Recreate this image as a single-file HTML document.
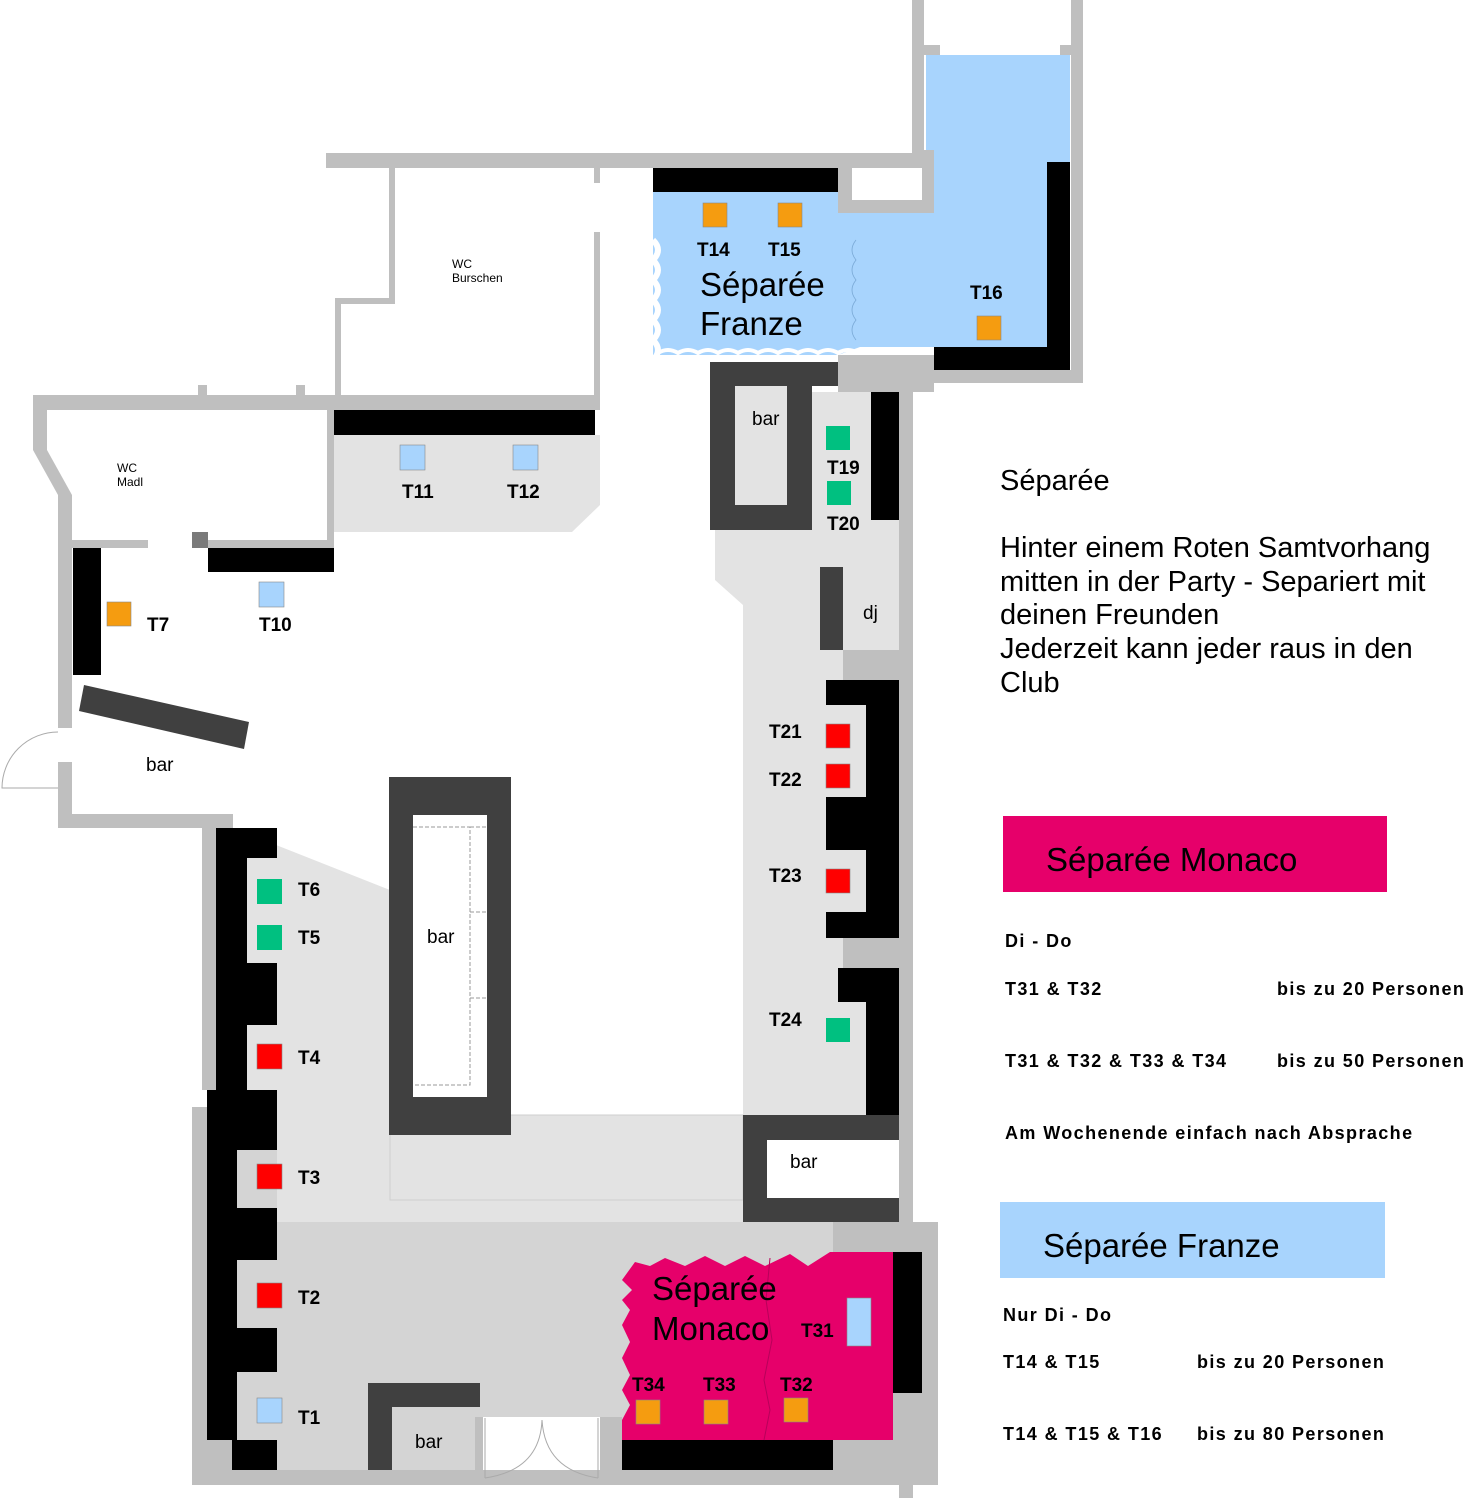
<!DOCTYPE html>
<html><head><meta charset="utf-8"><style>
html,body{margin:0;padding:0;background:#fff;}
svg{display:block;}
text{font-family:"Liberation Sans",Arial,sans-serif;}
.b{font-weight:bold;font-size:19px;}
.s{font-size:12px;}
.n{font-size:19px;}
.l{font-weight:bold;font-size:18px;letter-spacing:1.4px;}
</style></head><body>
<svg width="1484" height="1500" viewBox="0 0 1484 1500" xmlns="http://www.w3.org/2000/svg">
<!-- floor fills -->
<polygon points="715,392 899,392 899,1115 743,1115 743,605 715,580" fill="#e3e3e3"/>
<polygon points="334,435 600,435 600,505 572,532 334,532" fill="#e3e3e3"/>
<polygon points="233,828 390,890 390,1222 247,1222 247,828" fill="#e3e3e3"/>
<rect x="277" y="1115" width="466" height="107" fill="#e3e3e3"/>
<rect x="390" y="1115" width="353" height="85" fill="#e3e3e3" stroke="#cfcfcf" stroke-width="1"/>
<rect x="277" y="1222" width="556" height="248" fill="#d4d4d4"/>
<rect x="237" y="1150" width="40" height="320" fill="#d4d4d4"/>
<rect x="392" y="1407" width="83" height="63" fill="#d4d4d4"/>
<!-- blue area -->
<polygon points="653,168 838,168 838,213 934,213 934,153 926,153 926,55 1070,55 1070,355 934,355 934,347 860,347 838,355 653,355" fill="#a8d4fd"/>
<path d="M653,240 q10,10 0,20 q10,10 0,20 q10,10 0,20 q10,10 0,20 q10,10 0,20 q10,10 0,20" fill="none" stroke="#fff" stroke-width="6"/>
<path d="M856,240 q-8,10 0,20 q-8,10 0,20 q-8,10 0,20 q-8,10 0,20 q-8,10 0,20" fill="none" stroke="#7aa9d6" stroke-width="0.8"/>
<path d="M658,353 q10,-6 20,0 q10,-6 20,0 q10,-6 20,0 q10,-6 20,0 q10,-6 20,0 q10,-6 20,0 q10,-6 20,0 q10,-6 20,0 q10,-6 20,0 q10,-6 20,0" fill="none" stroke="#fff" stroke-width="4"/>
<!-- walls gray -->
<g fill="#bfbfbf">
<rect x="326" y="153" width="586" height="15"/>
<rect x="912" y="0" width="12" height="168"/>
<rect x="1071" y="0" width="12" height="383"/>
<rect x="924" y="45" width="16" height="10"/>
<rect x="1060" y="45" width="11" height="10"/>
<rect x="838" y="153" width="14" height="60"/>
<rect x="838" y="200" width="96" height="13"/>
<rect x="922" y="150" width="12" height="63"/>
<rect x="934" y="370" width="149" height="13"/>
<rect x="838" y="355" width="96" height="37"/>
<rect x="899" y="383" width="14" height="839"/>
<rect x="389" y="168" width="6" height="132"/>
<rect x="337" y="298" width="58" height="6"/>
<rect x="335" y="298" width="6" height="97"/>
<rect x="594" y="232" width="6" height="163"/>
<rect x="594" y="168" width="6" height="15"/>
<rect x="33" y="395" width="567" height="15"/>
<rect x="198" y="385" width="9" height="10"/>
<rect x="296" y="385" width="9" height="10"/>
<rect x="327" y="410" width="7" height="138"/>
<rect x="72" y="540" width="76" height="8"/>
<rect x="205" y="540" width="129" height="8"/>
<rect x="33" y="395" width="14" height="55"/>
<polygon points="33,450 47,450 72,495 58,495"/>
<rect x="58" y="495" width="14" height="233"/>
<rect x="58" y="762" width="14" height="66"/>
<rect x="58" y="814" width="175" height="14"/>
<rect x="202" y="828" width="14" height="262"/>
<rect x="192" y="1107" width="15" height="378"/>
<rect x="192" y="1470" width="418" height="15"/>
<rect x="610" y="1470" width="326" height="15"/>
<rect x="600" y="1417" width="10" height="53"/>
<rect x="610" y="1417" width="12" height="53"/>
<rect x="475" y="1417" width="8" height="53"/>
<rect x="833" y="1222" width="105" height="30"/>
<rect x="922" y="1222" width="16" height="263"/>
<rect x="833" y="1393" width="89" height="77"/>
<rect x="202" y="1440" width="30" height="30"/>
<rect x="899" y="1470" width="14" height="28"/>
<rect x="843" y="650" width="56" height="30"/>
<rect x="843" y="938" width="56" height="30"/>
</g>
<rect x="852" y="168" width="70" height="32" fill="#fff"/>
<rect x="192" y="532" width="16" height="16" fill="#7a7a7a"/>
<!-- door area -->
<rect x="483" y="1417" width="117" height="53" fill="#fff"/>
<path d="M485,1478 V1418 M598,1478 V1418 M485,1478 Q540,1470 542,1420 M598,1478 Q545,1470 542,1420" fill="none" stroke="#aaa" stroke-width="1"/>
<path d="M58,732 A56,56 0 0 0 2,788 L58,788" fill="none" stroke="#aaa" stroke-width="1"/>
<!-- black -->
<g fill="#000">
<rect x="653" y="168" width="185" height="24"/>
<rect x="1047" y="162" width="23" height="208"/>
<rect x="934" y="347" width="136" height="23"/>
<rect x="334" y="410" width="261" height="25"/>
<rect x="208" y="548" width="126" height="24"/>
<rect x="73" y="548" width="28" height="127"/>
<rect x="871" y="392" width="28" height="128"/>
<rect x="866" y="680" width="33" height="258"/>
<rect x="826" y="680" width="40" height="25"/>
<rect x="826" y="797" width="40" height="53"/>
<rect x="826" y="912" width="40" height="26"/>
<rect x="838" y="968" width="28" height="34"/>
<rect x="866" y="968" width="33" height="147"/>
<rect x="216" y="828" width="31" height="262"/>
<rect x="216" y="828" width="61" height="30"/>
<rect x="216" y="963" width="61" height="62"/>
<rect x="207" y="1090" width="30" height="350"/>
<rect x="207" y="1090" width="70" height="60"/>
<rect x="207" y="1208" width="70" height="52"/>
<rect x="207" y="1328" width="70" height="44"/>
<rect x="232" y="1440" width="45" height="30"/>
<rect x="893" y="1252" width="29" height="141"/>
<rect x="622" y="1440" width="211" height="30"/>
</g>
<!-- dark gray bars -->
<g fill="#404040">
<polygon points="84,685 249,722 244,749 79,711"/>
<rect x="389" y="777" width="122" height="358"/>
<rect x="710" y="362" width="128" height="24"/>
<rect x="710" y="362" width="102" height="168"/>
<rect x="820" y="567" width="23" height="83"/>
<rect x="743" y="1115" width="156" height="107"/>
<rect x="368" y="1383" width="24" height="87"/>
<rect x="368" y="1383" width="112" height="24"/>
</g>
<rect x="413" y="815" width="74" height="282" fill="#fff"/>
<path d="M413,827 H470 V1085 H413 M470,827 H487 M470,912 H487 M470,998 H487" fill="none" stroke="#999" stroke-width="1" stroke-dasharray="4,2"/>
<rect x="735" y="386" width="52" height="119" fill="#e3e3e3"/>
<rect x="767" y="1140" width="132" height="58" fill="#fff"/>
<!-- monaco -->
<polygon points="635,1262 650,1266 665,1258 685,1266 705,1256 725,1266 745,1256 765,1266 790,1254 808,1266 830,1252 893,1252 893,1440 622,1440 622,1420 630,1405 622,1390 630,1375 622,1358 630,1342 622,1325 630,1310 622,1300 632,1290 622,1280" fill="#e6006a"/>
<path d="M770,1258 L766,1300 772,1340 764,1380 770,1410 764,1440" fill="none" stroke="#b8005a" stroke-width="1"/>
<!-- tables -->
<g stroke="#888" stroke-width="0.6">
<rect x="703" y="203" width="24" height="24" fill="#f59c10"/>
<rect x="778" y="203" width="24" height="24" fill="#f59c10"/>
<rect x="977" y="316" width="24" height="24" fill="#f59c10"/>
<rect x="107" y="602" width="24" height="24" fill="#f59c10"/>
<rect x="636" y="1400" width="24" height="24" fill="#f59c10"/>
<rect x="704" y="1400" width="24" height="24" fill="#f59c10"/>
<rect x="784" y="1398" width="24" height="24" fill="#f59c10"/>
<rect x="400" y="445" width="25" height="25" fill="#a8d4fd"/>
<rect x="513" y="445" width="25" height="25" fill="#a8d4fd"/>
<rect x="259" y="582" width="25" height="25" fill="#a8d4fd"/>
<rect x="257" y="1398" width="25" height="25" fill="#a8d4fd"/>
<rect x="847" y="1298" width="24" height="48" fill="#a8d4fd"/>
<rect x="826" y="426" width="24" height="24" fill="#00c080" stroke="none"/>
<rect x="827" y="481" width="24" height="24" fill="#00c080" stroke="none"/>
<rect x="826" y="1018" width="24" height="24" fill="#00c080" stroke="none"/>
<rect x="257" y="879" width="25" height="25" fill="#00c080" stroke="none"/>
<rect x="257" y="925" width="25" height="25" fill="#00c080" stroke="none"/>
<rect x="826" y="724" width="24" height="24" fill="#ff0000"/>
<rect x="826" y="764" width="24" height="24" fill="#ff0000"/>
<rect x="826" y="869" width="24" height="24" fill="#ff0000"/>
<rect x="257" y="1044" width="25" height="25" fill="#ff0000"/>
<rect x="257" y="1164" width="25" height="25" fill="#ff0000"/>
<rect x="257" y="1283" width="25" height="25" fill="#ff0000"/>
</g>
<!-- labels -->
<g class="b">
<text x="697" y="256" class="b">T14</text>
<text x="768" y="256" class="b">T15</text>
<text x="970" y="299" class="b">T16</text>
<text x="402" y="498" class="b">T11</text>
<text x="507" y="498" class="b">T12</text>
<text x="147" y="631" class="b">T7</text>
<text x="259" y="631" class="b">T10</text>
<text x="827" y="474" class="b">T19</text>
<text x="827" y="530" class="b">T20</text>
<text x="769" y="738" class="b">T21</text>
<text x="769" y="786" class="b">T22</text>
<text x="769" y="882" class="b">T23</text>
<text x="769" y="1026" class="b">T24</text>
<text x="298" y="896" class="b">T6</text>
<text x="298" y="944" class="b">T5</text>
<text x="298" y="1064" class="b">T4</text>
<text x="298" y="1184" class="b">T3</text>
<text x="298" y="1304" class="b">T2</text>
<text x="298" y="1424" class="b">T1</text>
<text x="801" y="1337" class="b">T31</text>
<text x="632" y="1391" class="b">T34</text>
<text x="703" y="1391" class="b">T33</text>
<text x="780" y="1391" class="b">T32</text>
</g>
<text x="752" y="425" class="n">bar</text>
<text x="863" y="619" class="n">dj</text>
<text x="146" y="771" class="n">bar</text>
<text x="427" y="943" class="n">bar</text>
<text x="790" y="1168" class="n">bar</text>
<text x="415" y="1448" class="n">bar</text>
<text x="452" y="268" class="s">WC</text>
<text x="452" y="282" class="s">Burschen</text>
<text x="117" y="472" class="s">WC</text>
<text x="117" y="486" class="s">Madl</text>
<text x="700" y="296" font-size="33">Séparée</text>
<text x="700" y="335" font-size="33">Franze</text>
<text x="652" y="1300" font-size="33">Séparée</text>
<text x="652" y="1340" font-size="33">Monaco</text>
<!-- legend -->
<text x="1000" y="490" font-size="29">Séparée</text>
<text x="1000" y="557" font-size="29">Hinter einem Roten Samtvorhang</text>
<text x="1000" y="591" font-size="29">mitten in der Party - Separiert mit</text>
<text x="1000" y="624" font-size="29">deinen Freunden</text>
<text x="1000" y="658" font-size="29">Jederzeit kann jeder raus in den</text>
<text x="1000" y="692" font-size="29">Club</text>
<rect x="1003" y="816" width="384" height="76" fill="#e6006a"/>
<text x="1046" y="871" font-size="33">Séparée Monaco</text>
<text x="1005" y="947" class="l">Di - Do</text>
<text x="1005" y="995" class="l">T31 &amp; T32</text>
<text x="1277" y="995" class="l">bis zu 20 Personen</text>
<text x="1005" y="1067" class="l">T31 &amp; T32 &amp; T33 &amp; T34</text>
<text x="1277" y="1067" class="l">bis zu 50 Personen</text>
<text x="1005" y="1139" class="l">Am Wochenende einfach nach Absprache</text>
<rect x="1000" y="1202" width="385" height="76" fill="#a8d4fd"/>
<text x="1043" y="1257" font-size="33">Séparée Franze</text>
<text x="1003" y="1321" class="l">Nur  Di - Do</text>
<text x="1003" y="1368" class="l">T14 &amp; T15</text>
<text x="1197" y="1368" class="l">bis zu 20 Personen</text>
<text x="1003" y="1440" class="l">T14 &amp; T15 &amp; T16</text>
<text x="1197" y="1440" class="l">bis zu 80 Personen</text>
</svg>
</body></html>
